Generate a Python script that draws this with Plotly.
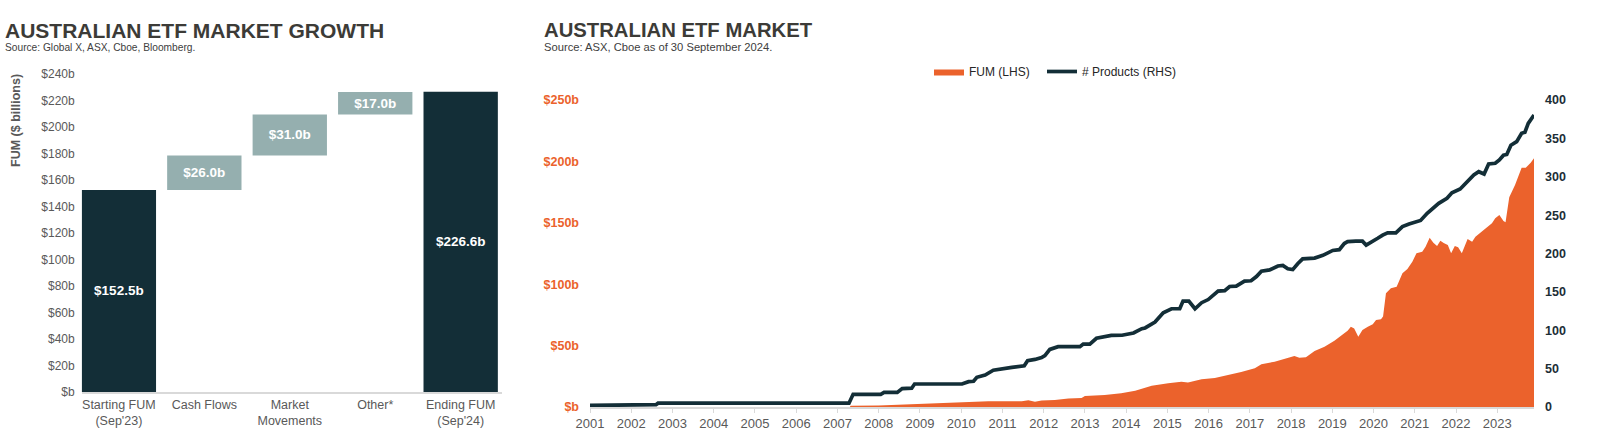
import plotly.graph_objects as go

# ---------------- data: left waterfall ----------------
wf_categories = ["Starting FUM<br>(Sep'23)", "Cash Flows", "Market<br>Movements", "Other*", "Ending FUM<br>(Sep'24)"]
wf_values = [152.5, 26.0, 31.0, 17.0, 226.6]
wf_bases = [0, 152.5, 178.5, 209.5, 0]
wf_kind = ["total", "delta", "delta", "delta", "total"]
wf_ticks = [0, 20, 40, 60, 80, 100, 120, 140, 160, 180, 200, 220, 240]
wf_ticktext = ["$b", "$20b", "$40b", "$60b", "$80b", "$100b", "$120b", "$140b", "$160b", "$180b", "$200b", "$220b", "$240b"]

# ---------------- data: right chart ----------------
fum_x = [2007.3, 2007.32, 2008.0, 2008.73, 2009.05, 2009.54, 2010.02, 2010.66, 2011.47, 2011.63, 2011.79, 2011.95,
         2012.27, 2012.6, 2012.92, 2013.0, 2013.48, 2013.88, 2014.22, 2014.62, 2015.02, 2015.34, 2015.5, 2015.83,
         2016.15, 2016.47, 2016.79, 2017.12, 2017.28, 2017.6, 2017.92, 2018.08, 2018.2, 2018.36, 2018.57, 2018.81,
         2019.05, 2019.25, 2019.37, 2019.45, 2019.53, 2019.63, 2019.73, 2019.86, 2019.98, 2020.06, 2020.18, 2020.23,
         2020.3, 2020.42, 2020.56, 2020.7, 2020.82, 2020.94, 2021.04, 2021.18, 2021.26, 2021.36, 2021.45, 2021.54,
         2021.62, 2021.7, 2021.8, 2021.88, 2021.97, 2022.05, 2022.14, 2022.28, 2022.39, 2022.47, 2022.63, 2022.75,
         2022.87, 2022.95, 2023.05, 2023.15, 2023.2, 2023.29, 2023.43, 2023.59, 2023.69, 2023.81, 2023.89]
fum_y = [0.0, 1.0, 1.3, 2.2, 3.0, 3.5, 4.3, 4.6, 4.6, 5.4, 4.3, 5.2,
         5.7, 7.0, 7.3, 9.0, 9.8, 11.1, 13.3, 17.4, 19.3, 20.6, 20.0, 22.5,
         23.6, 25.8, 28.5, 31.5, 34.8, 36.9, 40.2, 41.5, 40.2, 40.5, 45.6, 49.1,
         54.0, 58.6, 62.0, 65.4, 64.0, 57.3, 62.7, 65.4, 67.3, 70.8, 71.5, 73.6,
         92.6, 96.7, 98.0, 108.9, 112.4, 118.3, 125.2, 126.5, 130.5, 137.9, 133.8, 131.1,
         135.4, 133.5, 131.9, 125.2, 131.1, 130.0, 125.2, 136.8, 134.6, 138.7, 142.8, 146.3,
         149.6, 153.7, 156.4, 151.5, 150.4, 170.8, 180.8, 194.9, 194.9, 199.0, 202.5]

prod_x = [2001.0, 2001.45, 2001.5, 2002.6, 2002.65, 2007.28, 2007.38, 2008.05, 2008.13, 2008.45, 2008.57, 2008.8,
          2008.87, 2010.02, 2010.18, 2010.3, 2010.38, 2010.58, 2010.78, 2010.99, 2011.23, 2011.53, 2011.61, 2011.79,
          2011.95, 2012.03, 2012.15, 2012.35, 2012.88, 2012.96, 2013.12, 2013.28, 2013.48, 2013.64, 2013.9, 2014.18,
          2014.38, 2014.46, 2014.7, 2014.9, 2015.1, 2015.3, 2015.38, 2015.52, 2015.67, 2015.83, 2015.99, 2016.1,
          2016.23, 2016.39, 2016.51, 2016.67, 2016.87, 2017.03, 2017.16, 2017.28, 2017.48, 2017.68, 2017.8, 2017.92,
          2018.04, 2018.16, 2018.28, 2018.57, 2018.77, 2019.01, 2019.17, 2019.29, 2019.37, 2019.57, 2019.73, 2019.82,
          2019.98, 2020.1, 2020.22, 2020.34, 2020.54, 2020.7, 2020.86, 2021.02, 2021.14, 2021.3, 2021.46, 2021.58,
          2021.78, 2021.9, 2022.1, 2022.27, 2022.43, 2022.55, 2022.68, 2022.79, 2022.95, 2023.05, 2023.15, 2023.23,
          2023.33, 2023.47, 2023.59, 2023.67, 2023.75, 2023.89]
prod_y = [2, 2, 3, 3, 5, 5, 16.5, 16.5, 19, 19, 24, 24.5,
          30, 30, 33, 33.5, 38.7, 41.7, 48, 50, 51.7, 53.8, 60.4, 62,
          64.3, 67, 75, 78.6, 78.6, 82, 82, 89.5, 91.6, 93.4, 93.5, 96.4,
          102, 103, 110.7, 122.8, 128, 128, 138, 138, 128, 135.9, 140, 145.4,
          151, 151.5, 157, 157.5, 164, 164.5, 170, 177, 178.6, 183.7, 184.5, 180,
          179, 186.7, 193, 194, 197.6, 204, 205, 213, 215.4, 216, 216, 211,
          215.6, 219.8, 224, 227, 227, 235, 238.4, 241.5, 243, 252.4, 259, 265.4,
          272, 279, 284, 293.6, 302.3, 306.6, 303.6, 316.6, 317.5, 321.8, 328, 329,
          341, 345.7, 356.6, 358, 369.6, 380.5]

year_ticks = list(range(2001, 2024))
year_labels = [str(y) for y in year_ticks]
fum_ticks = [0, 50, 100, 150, 200, 250]
fum_ticktext = ["$b", "$50b", "$100b", "$150b", "$200b", "$250b"]
prod_ticks = [0, 50, 100, 150, 200, 250, 300, 350, 400]

# ---------------- styles ----------------
W, H = 1598, 438
FONT = "Liberation Sans, Arial, sans-serif"
NAVY = "#132E37"
TEAL = "#95AFAF"
ORANGE = "#EB622C"
TITLE_C = "#3C3B37"
AXIS_C = "#595959"
LINE_C = "#D9D9D9"


def px_x(p):
    return p / W


def px_y(p):
    return (H - p) / H


fig = go.Figure()

bar_colors = [NAVY if k == "total" else TEAL for k in wf_kind]
fig.add_trace(go.Bar(
    x=wf_categories, y=wf_values, base=wf_bases,
    marker=dict(color=bar_colors, line=dict(width=0)),
    text=[f"${v:.1f}b" for v in wf_values],
    textposition="inside", insidetextanchor="middle",
    textfont=dict(family=FONT, size=13.5, color="white", weight="bold"),
    textangle=0, constraintext="none",
    width=0.87, showlegend=False, xaxis="x", yaxis="y",
    hoverinfo="skip",
))

fig.add_trace(go.Scatter(
    x=fum_x, y=fum_y, name="FUM (LHS)", mode="lines",
    line=dict(width=0, color=ORANGE), fill="tozeroy", fillcolor=ORANGE,
    xaxis="x2", yaxis="y2", legend="legend",
))
fig.add_trace(go.Scatter(
    x=prod_x, y=prod_y, name="# Products (RHS)", mode="lines",
    line=dict(width=3.7, color=NAVY), xaxis="x2", yaxis="y3", legend="legend2",
))

legend_common = dict(
    orientation="h", xanchor="left", yanchor="middle", y=px_y(71.5),
    font=dict(size=12, color="#262626"), bgcolor="rgba(0,0,0,0)", borderwidth=0,
    itemwidth=30,
)

fig.update_layout(
    template="none",
    width=W, height=H, autosize=False,
    margin=dict(l=0, r=0, t=0, b=0, pad=0, autoexpand=False),
    paper_bgcolor="white", plot_bgcolor="white",
    font=dict(family=FONT, color=AXIS_C),
    bargap=0.13,
    xaxis=dict(
        domain=[px_x(81.7), px_x(501.7)], range=[-0.435, 4.48], type="category",
        showline=True, linecolor=LINE_C, linewidth=1.5, showgrid=False, ticks="",
        zeroline=False, automargin=False,
        tickfont=dict(size=12.5, color=AXIS_C), anchor="y", fixedrange=True,
    ),
    yaxis=dict(
        domain=[px_y(392), px_y(74)], range=[0, 240],
        tickvals=wf_ticks, ticktext=wf_ticktext, showgrid=False, zeroline=False,
        showline=False, ticks="", ticklabelstandoff=6, automargin=False,
        tickfont=dict(size=12, color=AXIS_C), anchor="x",
    ),
    xaxis2=dict(
        domain=[px_x(590), px_x(1534)], range=[2001, 2023.89],
        tickvals=year_ticks, ticktext=year_labels,
        showline=True, linecolor=LINE_C, linewidth=1.5, showgrid=False, zeroline=False,
        ticks="outside", ticklen=4, tickcolor=LINE_C, tickwidth=1, automargin=False,
        tickfont=dict(size=13, color=AXIS_C), anchor="y2",
    ),
    yaxis2=dict(
        domain=[px_y(407), px_y(100)], range=[0, 250],
        tickvals=fum_ticks, ticktext=fum_ticktext, showgrid=False, zeroline=False,
        showline=False, ticks="", ticklabelstandoff=10, automargin=False,
        tickfont=dict(size=12.5, color=ORANGE, weight="bold"), anchor="x2",
    ),
    yaxis3=dict(
        domain=[px_y(407), px_y(100)], range=[0, 400], overlaying="y2", side="right",
        tickvals=prod_ticks, showgrid=False, zeroline=False, showline=False,
        ticks="", ticklabelstandoff=10, automargin=False,
        tickfont=dict(size=12.5, color="#1C2E36", weight="bold"), anchor="x2",
    ),
    showlegend=True,
    legend=dict(x=px_x(929), **legend_common),
    legend2=dict(x=px_x(1042), **legend_common),
    annotations=[
        dict(text="<b>AUSTRALIAN ETF MARKET GROWTH</b>", x=px_x(3), y=px_y(30), xref="paper", yref="paper",
             xanchor="left", yanchor="middle", showarrow=False, font=dict(size=21, color=TITLE_C)),
        dict(text="Source: Global X, ASX, Cboe, Bloomberg.", x=px_x(3), y=px_y(47.5), xref="paper", yref="paper",
             xanchor="left", yanchor="middle", showarrow=False, font=dict(size=10.2, color="#404040")),
        dict(text="<b>AUSTRALIAN ETF MARKET</b>", x=px_x(542), y=px_y(30), xref="paper", yref="paper",
             xanchor="left", yanchor="middle", showarrow=False, font=dict(size=20.3, color=TITLE_C)),
        dict(text="Source: ASX, Cboe as of 30 September 2024.", x=px_x(542), y=px_y(47.5), xref="paper", yref="paper",
             xanchor="left", yanchor="middle", showarrow=False, font=dict(size=11.2, color="#404040")),
        dict(text="<b>FUM ($ billions)</b>", x=px_x(16), y=px_y(121), xref="paper", yref="paper",
             xanchor="center", yanchor="middle", textangle=-90, showarrow=False,
             font=dict(size=12.5, color=AXIS_C)),
    ],
)

fig.write_html(
    "out.html",
    config={"displayModeBar": False},
    post_script="document.body.style.margin='0px'; document.body.style.overflow='hidden';",
)
